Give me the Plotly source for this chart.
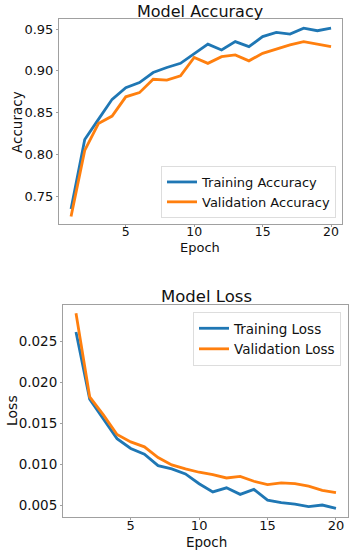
import plotly.graph_objects as go

epochs = list(range(1, 21))
train_acc = [0.735, 0.818, 0.842, 0.866, 0.880, 0.886, 0.898, 0.904, 0.909, 0.921,
             0.932, 0.925, 0.935, 0.929, 0.941, 0.946, 0.944, 0.951, 0.948, 0.951]
val_acc = [0.726, 0.805, 0.837, 0.846, 0.869, 0.874, 0.890, 0.889, 0.894, 0.916,
           0.909, 0.917, 0.919, 0.912, 0.921, 0.926, 0.931, 0.935, 0.932, 0.929]
train_loss = [0.0261, 0.0179, 0.0155, 0.0131, 0.0119, 0.0112, 0.0098, 0.0094, 0.0088, 0.0076,
              0.0066, 0.0071, 0.0063, 0.0069, 0.0056, 0.0053, 0.0051, 0.0048, 0.0050, 0.0046]
val_loss = [0.0284, 0.0182, 0.0160, 0.0136, 0.0127, 0.0121, 0.0108, 0.0099, 0.0094, 0.0090,
            0.0087, 0.0083, 0.0085, 0.0079, 0.0075, 0.0077, 0.0076, 0.0073, 0.0068, 0.0065]

BLUE = "#1f77b4"
ORANGE = "#ff7f0e"
FONT = "DejaVu Sans"
TXT = "#111111"
W, H = 356, 552

fig = go.Figure()
fig.add_trace(go.Scatter(x=epochs, y=train_acc, mode="lines", name="Training Accuracy",
                         line=dict(color=BLUE, width=2.8), xaxis="x", yaxis="y", legend="legend"))
fig.add_trace(go.Scatter(x=epochs, y=val_acc, mode="lines", name="Validation Accuracy",
                         line=dict(color=ORANGE, width=2.8), xaxis="x", yaxis="y", legend="legend"))
fig.add_trace(go.Scatter(x=epochs, y=train_loss, mode="lines", name="Training Loss",
                         line=dict(color=BLUE, width=2.8), xaxis="x2", yaxis="y2", legend="legend2"))
fig.add_trace(go.Scatter(x=epochs, y=val_loss, mode="lines", name="Validation Loss",
                         line=dict(color=ORANGE, width=2.8), xaxis="x2", yaxis="y2", legend="legend2"))


def axis_common(fs, standoff=0):
    return dict(showgrid=False, zeroline=False, showline=True, mirror=True,
                linecolor="#a0a0a0", linewidth=1, ticks="outside", ticklen=2,
                tickcolor="#a0a0a0", ticklabelstandoff=standoff,
                tickfont=dict(family=FONT, size=fs, color=TXT))


def px_x(a, b):
    return [a / W, b / W]


def px_y(top, bottom):
    return [1 - bottom / H, 1 - top / H]


def ann(text, x, y, size, angle=0):
    return dict(text=text, x=x / W, y=1 - y / H, xref="paper", yref="paper",
                xanchor="center", yanchor="middle", showarrow=False, textangle=angle,
                font=dict(family=FONT, size=size, color=TXT))


fig.update_layout(
    width=W, height=H, margin=dict(l=0, r=0, t=0, b=0),
    paper_bgcolor="white", plot_bgcolor="white",
    font=dict(family=FONT, color=TXT),
    xaxis=dict(domain=px_x(59, 342), range=[0.12, 20.8], tickvals=[5, 10, 15, 20],
               anchor="y", **axis_common(12.5, -6)),
    yaxis=dict(domain=px_y(19, 224), range=[0.717, 0.962], tickvals=[0.75, 0.80, 0.85, 0.90, 0.95],
               tickformat=".2f", anchor="x", **axis_common(13)),
    xaxis2=dict(domain=px_x(63, 348), range=[0.05, 20.88], tickvals=[5, 10, 15, 20],
                anchor="y2", **axis_common(13, -6)),
    yaxis2=dict(domain=px_y(305, 517), range=[0.00354, 0.0294],
                tickvals=[0.005, 0.010, 0.015, 0.020, 0.025], tickformat=".3f", anchor="x2",
                **axis_common(13.5)),
    legend=dict(x=336 / W, xanchor="right", y=1 - 218 / H, yanchor="bottom",
                bgcolor="white", bordercolor="#dddddd", borderwidth=1,
                font=dict(family=FONT, size=13, color=TXT), tracegroupgap=0),
    legend2=dict(x=341 / W, xanchor="right", y=1 - 312 / H, yanchor="top",
                 bgcolor="white", bordercolor="#dddddd", borderwidth=1,
                 font=dict(family=FONT, size=13.5, color=TXT), tracegroupgap=0),
    showlegend=True,
    annotations=[
        ann("Model Accuracy", 200, 12, 16),
        ann("Model Loss", 206, 297, 16.5),
        ann("Epoch", 200, 247.5, 13),
        ann("Epoch", 206, 541.5, 13.5),
        ann("Accuracy", 17, 122, 13.5, -90),
        ann("Loss", 12, 411, 14, -90),
    ],
)

fig.write_html("out.html")
